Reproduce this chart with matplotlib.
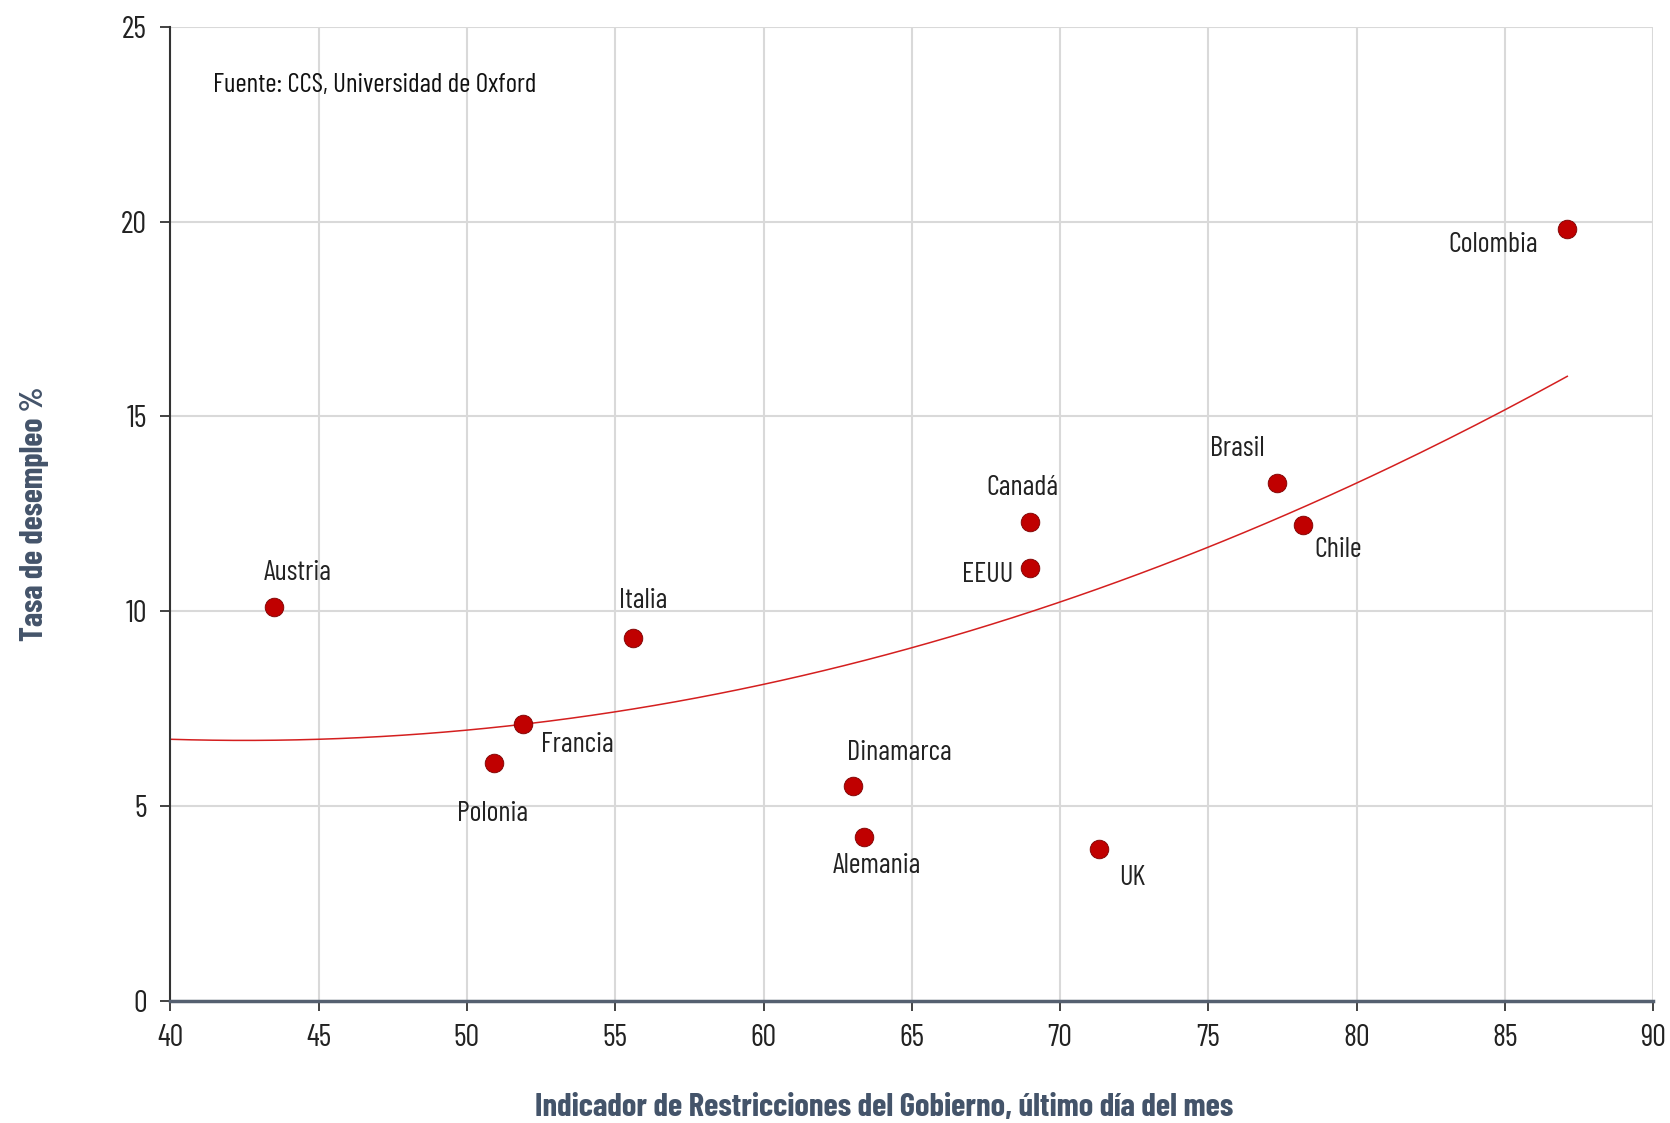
import numpy as np
import matplotlib.pyplot as plt

plt.rcParams['font.family'] = ['Barlow Condensed', 'DejaVu Sans']

# datos
paises = ['Austria', 'Italia', 'Francia', 'Polonia', 'Dinamarca', 'Alemania',
          'UK', 'Canadá', 'EEUU', 'Brasil', 'Chile', 'Colombia']
restricciones = [43.5, 55.6, 51.9, 50.9, 63.0, 63.4, 71.3, 69.0, 69.0, 77.3, 78.2, 87.1]
desempleo = [10.1, 9.3, 7.1, 6.1, 5.5, 4.2, 3.9, 12.3, 11.1, 13.3, 12.2, 19.8]

# linea de tendencia polinomica (coeficientes)
tendencia_coef = [0.0047, -0.3995, 15.17]

# posicion de etiquetas (offset en puntos)
offsets = [(17, 25), (7, 27), (39, -15), (-1, -37), (34, 24), (9, -21),
           (24, -21), (-6, 24), (-31, -5), (-28, 24), (25, -18), (-53, -11)]

fig = plt.figure(figsize=(16.7, 11.23), dpi=100)
ax = fig.add_axes([0.102, 0.109, 0.888, 0.867])

xt = np.linspace(40, max(restricciones), 200)
ax.plot(xt, np.polyval(tendencia_coef, xt), color='#D41F1F', linewidth=1.1, zorder=2)

ax.scatter(restricciones, desempleo, s=180, color='#C00000', edgecolor='#7A0000',
           linewidth=0.6, zorder=3)

for p, x, y, off in zip(paises, restricciones, desempleo, offsets):
    ax.annotate(p, (x, y), xytext=off, textcoords='offset points',
                ha='center', va='center', fontsize=20.5, color='#222222')

ax.text(0.029, 0.94, 'Fuente: CCS, Universidad de Oxford', transform=ax.transAxes,
        ha='left', va='center', fontsize=19.5, color='#111111')

ax.set_xlim(40, 90)
ax.set_ylim(0, 25)
ax.set_xticks(np.arange(40, 91, 5))
ax.set_yticks(np.arange(0, 26, 5))
ax.tick_params(axis='both', labelsize=22, length=7, width=1.2, pad=10, colors='#222222')
ax.grid(True, color='#D9D9D9', linewidth=1.5)
ax.set_axisbelow(True)

for s in ['top', 'right']:
    ax.spines[s].set_visible(False)
ax.spines['left'].set_color('#333333')
ax.spines['left'].set_linewidth(1.5)
ax.spines['bottom'].set_color('#556070')
ax.spines['bottom'].set_linewidth(2.5)

ax.set_xlabel('Indicador de Restricciones del Gobierno, último día del mes',
              fontsize=23.5, fontweight='bold', color='#44546A', labelpad=28)
ax.xaxis.set_label_coords(0.481, -0.095)
ax.set_ylabel('Tasa de desempleo %', fontsize=23, fontweight='bold',
              color='#44546A', labelpad=52)

plt.savefig('out.png', dpi=100, facecolor='white')
